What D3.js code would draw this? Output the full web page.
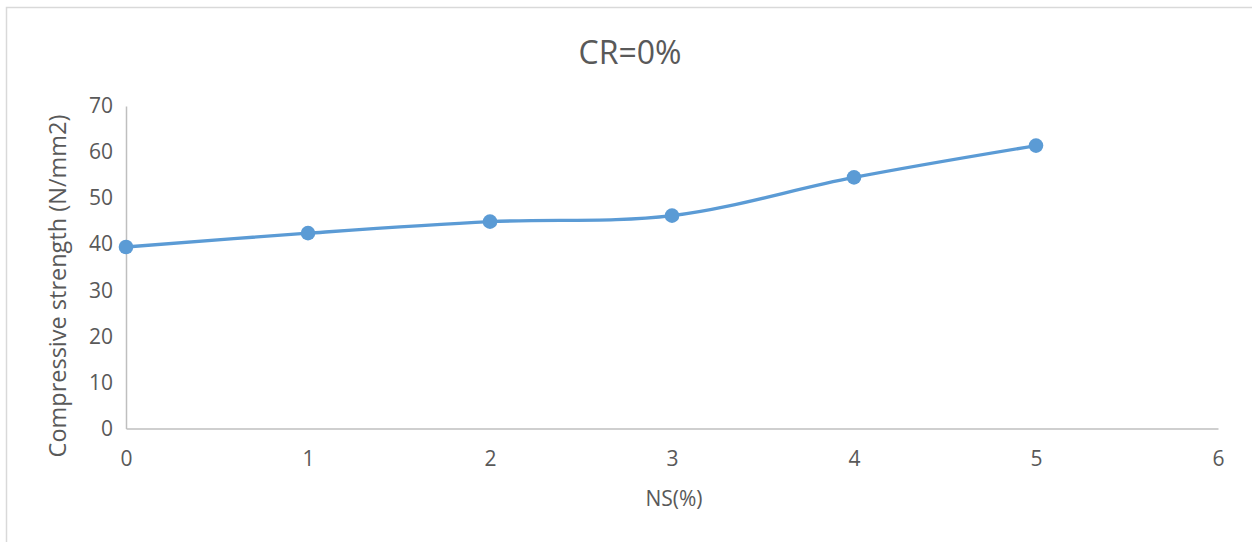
<!DOCTYPE html>
<html>
<head>
<meta charset="utf-8">
<script src="https://cdn.jsdelivr.net/npm/d3@7"></script>
<style>
  html, body { margin: 0; padding: 0; background: #fff; }
  svg { display: block; }
  text { font-family: "Open Sans", "DejaVu Sans", sans-serif; fill: #595959; }
</style>
</head>
<body>
<div id="chart"></div>
<script>
// NS content (%) and compressive strength (N/mm2) at CR = 0%
const nsPercent = [0, 1, 2, 3, 4, 5];
const strength = [39.4, 42.4, 44.9, 46.2, 54.5, 61.4];
const xTicks = [0, 1, 2, 3, 4, 5, 6];
const yTicks = [0, 10, 20, 30, 40, 50, 60, 70];
const chartTitle = "CR=0%";
const xTitle = "NS(%)";
const yTitle = "Compressive strength (N/mm2)";

const W = 1252, H = 542;
const svg = d3.select("#chart").append("svg")
  .attr("width", W).attr("height", H);

// chart frame
svg.append("rect")
  .attr("x", 6.5).attr("y", 7.5)
  .attr("width", W + 10).attr("height", H + 10)
  .attr("fill", "#fff").attr("stroke", "#d9d9d9").attr("stroke-width", 1.5);

const x = d3.scaleLinear().domain([0, 6]).range([126, 1218]);
const y = d3.scaleLinear().domain([0, 70]).range([428.5, 106]);

// y axis
const yAxis = svg.append("g")
  .attr("transform", `translate(${x(0)},0)`)
  .call(d3.axisLeft(y).tickValues(yTicks).tickSize(0).tickPadding(13));
yAxis.select(".domain").attr("stroke", "#bfbfbf").attr("stroke-width", 1.5);
yAxis.selectAll("text").style("font-size", "21px").attr("fill", "#595959");

// x axis
const xAxis = svg.append("g")
  .attr("transform", `translate(0,${y(0)})`)
  .call(d3.axisBottom(x).tickValues(xTicks).tickFormat(d3.format("d")).tickSize(0).tickPadding(23));
xAxis.select(".domain").attr("stroke", "#bfbfbf").attr("stroke-width", 1.5);
xAxis.selectAll("text").style("font-size", "21px").attr("fill", "#595959");

// smoothed series line
const line = d3.line()
  .x((d, i) => x(nsPercent[i]))
  .y(d => y(d))
  .curve(d3.curveCatmullRom.alpha(0.5));

svg.append("path")
  .datum(strength)
  .attr("d", line)
  .attr("fill", "none")
  .attr("stroke", "#5b9bd5")
  .attr("stroke-width", 3.4)
  .attr("stroke-linecap", "round");

svg.selectAll("circle.pt")
  .data(strength)
  .enter().append("circle")
  .attr("class", "pt")
  .attr("cx", (d, i) => x(nsPercent[i]))
  .attr("cy", d => y(d))
  .attr("r", 7.3)
  .attr("fill", "#5b9bd5");

// titles
svg.append("text")
  .attr("x", 630).attr("y", 51)
  .attr("text-anchor", "middle").attr("dominant-baseline", "central")
  .style("font-size", "32px")
  .text(chartTitle);

svg.append("text")
  .attr("x", 674).attr("y", 498)
  .attr("text-anchor", "middle").attr("dominant-baseline", "central")
  .style("font-size", "21px")
  .text(xTitle);

svg.append("text")
  .attr("transform", "translate(57,286) rotate(-90)")
  .attr("text-anchor", "middle").attr("dominant-baseline", "central")
  .style("font-size", "23.5px")
  .text(yTitle);
</script>
</body>
</html>
